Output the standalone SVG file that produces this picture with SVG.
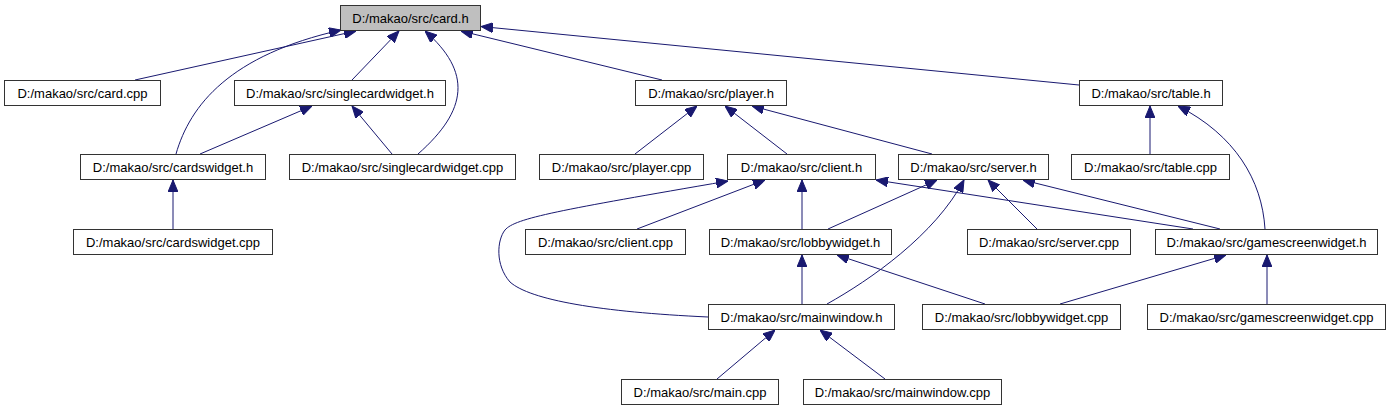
<svg xmlns="http://www.w3.org/2000/svg" width="1391" height="411" viewBox="0 0 1391 411">
<style>
.n rect{fill:#ffffff;stroke:#333333;stroke-width:1}
.n.cur rect{fill:#bfbfbf}
.n text{font-family:"Liberation Sans",Arial,sans-serif;font-size:13px;fill:#000000;text-anchor:middle}
.e path{fill:none;stroke:#191970;stroke-width:1;marker-end:url(#arr)}
</style>
<defs>
<marker id="arr" markerUnits="userSpaceOnUse" markerWidth="12" markerHeight="10" viewBox="0 0 12 10" refX="12" refY="5" orient="auto">
<path d="M0,0 L12,5 L0,10 z" fill="#191970" stroke="#191970" stroke-width="1"/>
</marker>
</defs>
<rect width="1391" height="411" fill="#ffffff"/>
<g id="connectors" class="e">
<path d="M135,80 L356,31"/>
<path d="M176,154 C190,105 230,55 341,30"/>
<path d="M352,80 L399,31"/>
<path d="M418,154 C468,110 472,72 425,31"/>
<path d="M662,80 L461,31"/>
<path d="M1079,85 L481,26.5"/>
<path d="M200,154 L312,106"/>
<path d="M392,154 L352,106"/>
<path d="M173,229 L173,180"/>
<path d="M635,154 L697,106"/>
<path d="M787,154 L725,106"/>
<path d="M932,154 L752,106"/>
<path d="M1150,154 L1150,106"/>
<path d="M1265,229 C1262,180 1235,135 1178,106"/>
<path d="M637,229 L765,180"/>
<path d="M802,229 L802,180"/>
<path d="M708,317 C600,312 530,300 510,282 C495,265 497,240 505,230 C515,218 560,210 728,181"/>
<path d="M1193,229 L876,180"/>
<path d="M828,229 L937,180"/>
<path d="M827,304 C870,280 935,235 964,180"/>
<path d="M1037,229 L988,180"/>
<path d="M1220,229 L1023,180"/>
<path d="M802,304 L802,255"/>
<path d="M985,304 L837,255"/>
<path d="M1060,304 L1226,255"/>
<path d="M1267,304 L1267,255"/>
<path d="M717,379 L775,330"/>
<path d="M885,379 L820,330"/>
</g>
<g id="card_h" class="n cur"><rect x="340.5" y="5.5" width="140" height="25"/><text x="410.5" y="23">D:/makao/src/card.h</text></g>
<g id="card_cpp" class="n"><rect x="4.5" y="80.5" width="156" height="25"/><text x="82.5" y="98">D:/makao/src/card.cpp</text></g>
<g id="singlecardwidget_h" class="n"><rect x="234.5" y="80.5" width="211" height="25"/><text x="340" y="98">D:/makao/src/singlecardwidget.h</text></g>
<g id="player_h" class="n"><rect x="635.5" y="80.5" width="151" height="25"/><text x="711" y="98">D:/makao/src/player.h</text></g>
<g id="table_h" class="n"><rect x="1079.5" y="80.5" width="143" height="25"/><text x="1151" y="98">D:/makao/src/table.h</text></g>
<g id="cardswidget_h" class="n"><rect x="80.5" y="154.5" width="185" height="25"/><text x="173" y="172">D:/makao/src/cardswidget.h</text></g>
<g id="singlecardwidget_cpp" class="n"><rect x="289.5" y="154.5" width="226" height="25"/><text x="402.5" y="172">D:/makao/src/singlecardwidget.cpp</text></g>
<g id="player_cpp" class="n"><rect x="539.5" y="154.5" width="164" height="25"/><text x="621.5" y="172">D:/makao/src/player.cpp</text></g>
<g id="client_h" class="n"><rect x="727.5" y="154.5" width="148" height="25"/><text x="801.5" y="172">D:/makao/src/client.h</text></g>
<g id="server_h" class="n"><rect x="898.5" y="154.5" width="150" height="25"/><text x="973.5" y="172">D:/makao/src/server.h</text></g>
<g id="table_cpp" class="n"><rect x="1071.5" y="154.5" width="158" height="25"/><text x="1150.5" y="172">D:/makao/src/table.cpp</text></g>
<g id="cardswidget_cpp" class="n"><rect x="73.5" y="229.5" width="199" height="25"/><text x="173" y="247">D:/makao/src/cardswidget.cpp</text></g>
<g id="client_cpp" class="n"><rect x="525.5" y="229.5" width="160" height="25"/><text x="605.5" y="247">D:/makao/src/client.cpp</text></g>
<g id="lobbywidget_h" class="n"><rect x="709.5" y="229.5" width="182" height="25"/><text x="800.5" y="247">D:/makao/src/lobbywidget.h</text></g>
<g id="server_cpp" class="n"><rect x="967.5" y="229.5" width="163" height="25"/><text x="1049" y="247">D:/makao/src/server.cpp</text></g>
<g id="gamescreenwidget_h" class="n"><rect x="1155.5" y="229.5" width="222" height="25"/><text x="1266.5" y="247">D:/makao/src/gamescreenwidget.h</text></g>
<g id="mainwindow_h" class="n"><rect x="708.5" y="304.5" width="186" height="25"/><text x="801.5" y="322">D:/makao/src/mainwindow.h</text></g>
<g id="lobbywidget_cpp" class="n"><rect x="922.5" y="304.5" width="198" height="25"/><text x="1021.5" y="322">D:/makao/src/lobbywidget.cpp</text></g>
<g id="gamescreenwidget_cpp" class="n"><rect x="1147.5" y="304.5" width="238" height="25"/><text x="1266.5" y="322">D:/makao/src/gamescreenwidget.cpp</text></g>
<g id="main_cpp" class="n"><rect x="621.5" y="379.5" width="157" height="25"/><text x="700" y="397">D:/makao/src/main.cpp</text></g>
<g id="mainwindow_cpp" class="n"><rect x="803.5" y="379.5" width="198" height="25"/><text x="902.5" y="397">D:/makao/src/mainwindow.cpp</text></g>
</svg>
